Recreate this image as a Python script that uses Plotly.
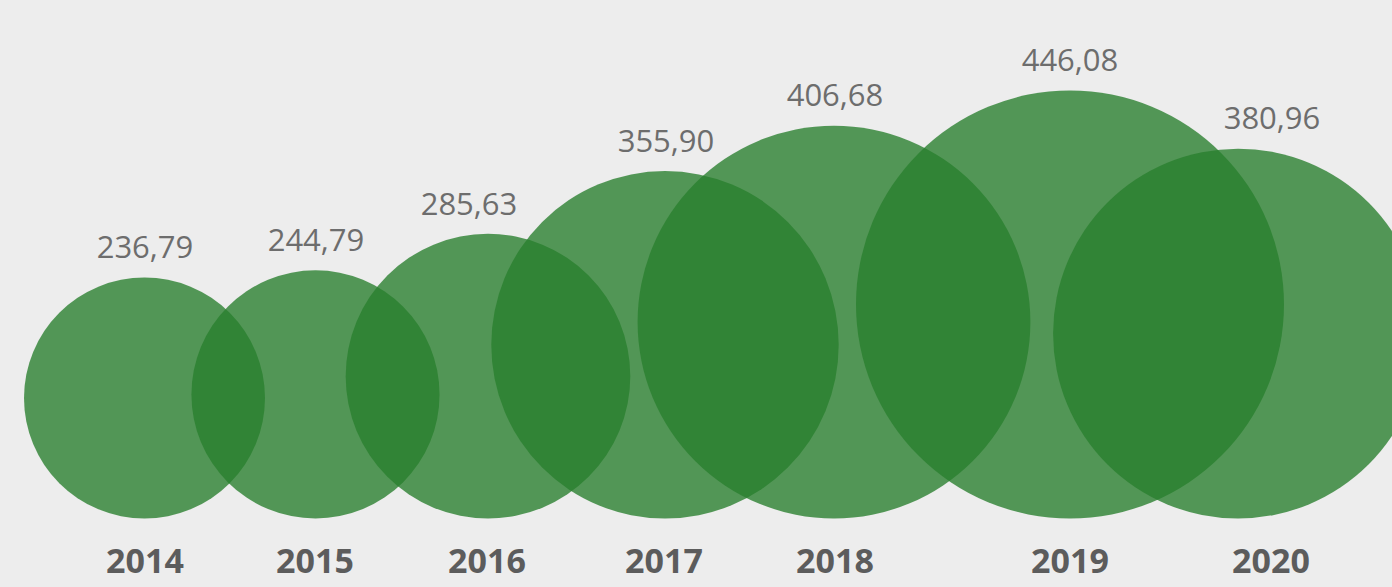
import plotly.graph_objects as go

# ---- data ----
years = ["2014", "2015", "2016", "2017", "2018", "2019", "2020"]
values = [236.79, 244.79, 285.63, 355.90, 406.68, 446.08, 380.96]

# ---- layout (pixel positions on a 1392x587 canvas) ----
W, H = 1392, 587
circle_x = [144.5, 315.5, 488, 665, 834, 1070, 1238]
value_label_x = [145, 316, 469, 666, 835, 1070, 1272]
year_label_x = [145, 315, 487, 664, 835, 1070, 1271]
baseline_y = 518.5
year_label_y = 564
label_gap = 27

# linear size scale: value -> diameter (px)
d_lo, d_hi = 241.0, 428.0
v_lo, v_hi = min(values), max(values)
diam = [d_lo + (v - v_lo) / (v_hi - v_lo) * (d_hi - d_lo) for v in values]
center_y = [baseline_y - d / 2 for d in diam]
top_y = [baseline_y - d for d in diam]

value_text = [f"{v:.2f}".replace(".", ",") for v in values]

fig = go.Figure()

fig.add_trace(go.Scatter(
    x=circle_x, y=center_y, mode="markers",
    marker=dict(size=diam, sizemode="diameter", color="rgb(40,127,46)",
                opacity=0.79, line=dict(width=0)),
    hoverinfo="skip", showlegend=False,
))

fig.add_trace(go.Scatter(
    x=value_label_x, y=[t - label_gap for t in top_y], mode="text",
    text=value_text,
    textfont=dict(family="Open Sans", size=31, color="#6d6d6d"),
    hoverinfo="skip", showlegend=False, cliponaxis=False,
))

fig.add_trace(go.Scatter(
    x=year_label_x, y=[year_label_y] * len(years), mode="text",
    text=[f"<b>{y}</b>" for y in years],
    textfont=dict(family="Open Sans", size=34, color="#5c5c5c"),
    hoverinfo="skip", showlegend=False, cliponaxis=False,
))

fig.update_layout(
    width=W, height=H,
    margin=dict(l=0, r=0, t=0, b=0),
    paper_bgcolor="#ededed", plot_bgcolor="#ededed",
    xaxis=dict(range=[0, W], visible=False, fixedrange=True),
    yaxis=dict(range=[H, 0], visible=False, fixedrange=True),
)

fig.write_html("out.html", config={"displayModeBar": False})

# remove the browser's default page margin so the chart fills the window
with open("out.html", "r", encoding="utf-8") as f:
    html = f.read()
html = html.replace("<head>", "<head><style>html,body{margin:0;padding:0;background:#ededed;overflow:hidden;}</style>", 1)
with open("out.html", "w", encoding="utf-8") as f:
    f.write(html)
